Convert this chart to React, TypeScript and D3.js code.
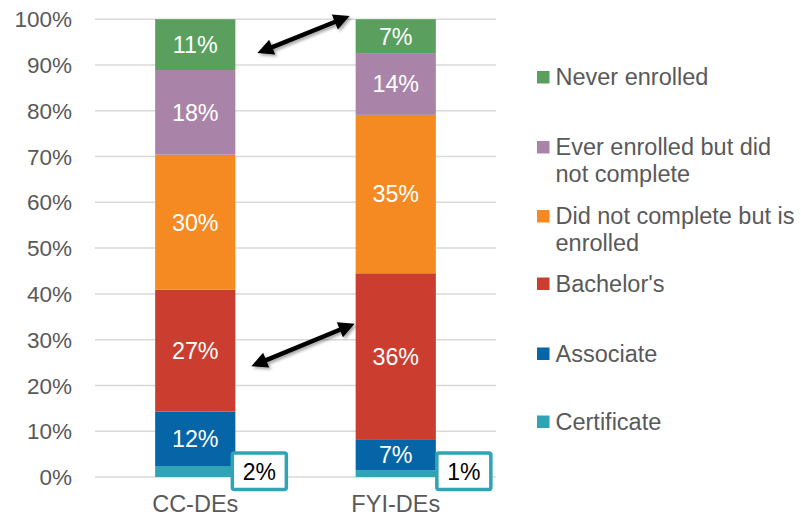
import React from "react";
import * as d3 from "d3";

const categories = ["CC-DEs", "FYI-DEs"];
const seriesNames = [
  "Certificate",
  "Associate",
  "Bachelor's",
  "Did not complete but is enrolled",
  "Ever enrolled but did not complete",
  "Never enrolled",
];
const ccValues = [2.4, 11.9, 26.6, 29.5, 18.5, 11.1];
const fyiValues = [1.5, 6.6, 36.4, 34.6, 13.5, 7.4];
const ccLabels = ["2%", "12%", "27%", "30%", "18%", "11%"];
const fyiLabels = ["1%", "7%", "36%", "35%", "14%", "7%"];
const colors = ["#30a3b5", "#0565a6", "#cb3d2f", "#f58a22", "#a984a8", "#5b9f5f"];
const legendLines = [
  ["Never enrolled"],
  ["Ever enrolled but did", "not complete"],
  ["Did not complete but is", "enrolled"],
  ["Bachelor's"],
  ["Associate"],
  ["Certificate"],
];
const legendSeriesIdx = [5, 4, 3, 2, 1, 0];
const legendY = [77, 147, 216, 283.5, 353.5, 421.5];
const yTicks = [0, 10, 20, 30, 40, 50, 60, 70, 80, 90, 100];
// arrows: from CC value to FYI value (percent positions)
const arrowFrom = [92.6, 24.2];
const arrowTo = [100.7, 33.5];

const W = 801;
const H = 516;
const FONT = "'Liberation Sans', Arial, sans-serif";

function Arrow({ x1, y1, x2, y2 }: { x1: number; y1: number; x2: number; y2: number }) {
  const dx = x2 - x1;
  const dy = y2 - y1;
  const len = Math.sqrt(dx * dx + dy * dy);
  const ux = dx / len;
  const uy = dy / len;
  const px = -uy;
  const py = ux;
  const hl = 16;
  const hw = 8;
  const head = (tx: number, ty: number, dirx: number, diry: number) => {
    const bx = tx - dirx * hl;
    const by = ty - diry * hl;
    return `${tx},${ty} ${bx + px * hw},${by + py * hw} ${bx - px * hw},${by - py * hw}`;
  };
  return (
    <g filter="url(#shadow)">
      <line
        x1={x1 + ux * hl * 0.8}
        y1={y1 + uy * hl * 0.8}
        x2={x2 - ux * hl * 0.8}
        y2={y2 - uy * hl * 0.8}
        stroke="#000"
        strokeWidth={4.5}
      />
      <polygon points={head(x2, y2, ux, uy)} fill="#000" />
      <polygon points={head(x1, y1, -ux, -uy)} fill="#000" />
    </g>
  );
}

export default function App() {
  const x = d3
    .scaleBand<string>()
    .domain(categories)
    .range([95, 496])
    .paddingInner(0.6)
    .paddingOuter(0.3);
  const y = d3.scaleLinear().domain([0, 100]).range([477, 19.2]);

  const data = [ccValues, fyiValues];
  const labels = [ccLabels, fyiLabels];
  const stacks = data.map((vals) => {
    let acc = 0;
    return vals.map((v) => {
      const s = acc;
      acc += v;
      return [s, acc];
    });
  });

  const bw = x.bandwidth();
  const ccX = x(categories[0])!;
  const fyiX = x(categories[1])!;

  return (
    <svg width={W} height={H} style={{ position: "absolute", left: 0, top: 0, background: "#fff" }}>
      <defs>
        <filter id="shadow" x="-20%" y="-50%" width="140%" height="200%">
          <feDropShadow dx={2} dy={2} stdDeviation={1.5} floodColor="#000" floodOpacity={0.35} />
        </filter>
      </defs>
      {yTicks.map((t) => (
        <g key={t}>
          <line x1={95} x2={496} y1={y(t)} y2={y(t)} stroke="#d9d9d9" strokeWidth={1.5} />
          <text
            x={72}
            y={y(t)}
            dy="0.36em"
            textAnchor="end"
            fontFamily={FONT}
            fontSize={22.5}
            fill="#595959"
          >
            {t}%
          </text>
        </g>
      ))}
      {categories.map((c, ci) => (
        <g key={c}>
          {stacks[ci].map(([s, e], si) => (
            <rect
              key={si}
              x={x(c)!}
              width={bw}
              y={y(e)}
              height={y(s) - y(e)}
              fill={colors[si]}
            />
          ))}
          {stacks[ci].map(([s, e], si) =>
            si === 0 ? null : (
              <text
                key={"l" + si}
                x={x(c)! + bw / 2}
                y={(y(s) + y(e)) / 2}
                dy="0.36em"
                textAnchor="middle"
                fontFamily={FONT}
                fontSize={23.3}
                fill="#fff"
              >
                {labels[ci][si]}
              </text>
            )
          )}
          <text
            x={x(c)! + bw / 2}
            y={503.5}
            dy="0.36em"
            textAnchor="middle"
            fontFamily={FONT}
            fontSize={23.5}
            fill="#595959"
          >
            {c}
          </text>
          {/* callout for certificate */}
          <rect
            x={x(c)! + bw - 3 + (ci === 1 ? 4 : 0)}
            y={453}
            width={54}
            height={36.5}
            fill="#fff"
            stroke="#30a3b5"
            strokeWidth={3.5}
            rx={2}
          />
          <text
            x={x(c)! + bw - 3 + (ci === 1 ? 4 : 0) + 27}
            y={472}
            dy="0.36em"
            textAnchor="middle"
            fontFamily={FONT}
            fontSize={23}
            fill="#000"
          >
            {labels[ci][0]}
          </text>
        </g>
      ))}
      {arrowFrom.map((f, i) => (
        <Arrow
          key={i}
          x1={ccX + bw + (i === 0 ? 22 : 16)}
          y1={y(f)}
          x2={fyiX - (i === 0 ? 6 : 1)}
          y2={y(arrowTo[i])}
        />
      ))}
      {legendSeriesIdx.map((si, i) => (
        <g key={si}>
          <rect x={537} y={legendY[i] - 6} width={12.5} height={12.5} fill={colors[si]} />
          {legendLines[i].map((ln, li) => (
            <text
              key={li}
              x={555.5}
              y={legendY[i] + li * 26.7}
              dy="0.36em"
              fontFamily={FONT}
              fontSize={23.5}
              fill="#595959"
            >
              {ln}
            </text>
          ))}
        </g>
      ))}
    </svg>
  );
}
